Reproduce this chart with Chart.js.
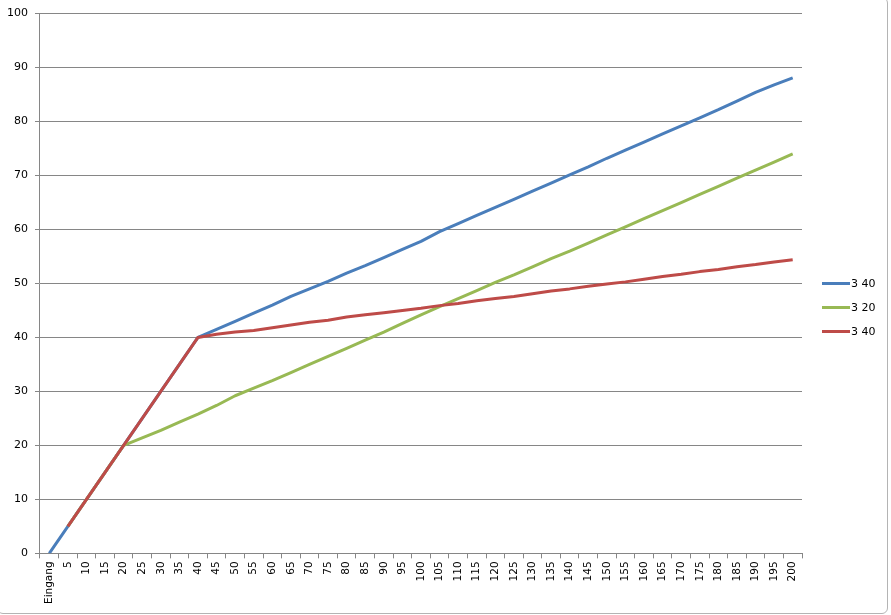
<!DOCTYPE html>
<html>
<head>
<meta charset="utf-8">
<script src="https://cdn.jsdelivr.net/npm/chart.js@4"></script>
<style>
  html, body { margin: 0; padding: 0; background: #fff; }
  #wrap { position: relative; width: 891px; height: 615px; }
  #frame {
    position: absolute; left: -3px; top: -3px; width: 889px; height: 615px;
    border: 1px solid #b4b4b4; border-radius: 6px; pointer-events: none;
  }
</style>
</head>
<body>
<div id="wrap">
  <canvas id="chart" width="891" height="615"></canvas>
  <div id="frame"></div>
</div>
<script>
let labels = ["Eingang", "5", "10", "15", "20", "25", "30", "35", "40", "45", "50",
  "55", "60", "65", "70", "75", "80", "85", "90", "95", "100",
  "105", "110", "115", "120", "125", "130", "135", "140", "145", "150",
  "155", "160", "165", "170", "175", "180", "185", "190", "195", "200"];

let blue40 = [0, 5, 10, 15, 20, 25, 30, 35, 40, 41.5, 43,
  44.5, 46, 47.6, 49, 50.4, 51.9, 53.3, 54.8, 56.3, 57.8,
  59.6, 61.1, 62.6, 64.1, 65.6, 67.1, 68.6, 70.1, 71.6, 73.2,
  74.7, 76.2, 77.7, 79.2, 80.7, 82.2, 83.8, 85.4, 86.8, 88.1];

let green20 = [null, 5, 10, 15, 20, 21.4, 22.8, 24.3, 25.8, 27.4, 29.2,
  30.6, 32.0, 33.5, 35, 36.5, 38.0, 39.5, 41.0, 42.6, 44.2,
  45.7, 47.2, 48.7, 50.2, 51.6, 53.1, 54.6, 56.0, 57.5, 59.0,
  60.5, 62.0, 63.5, 65.0, 66.5, 68.0, 69.5, 71.0, 72.5, 74.0];

let red40 = [null, 5, 10, 15, 20, 25, 30, 35, 40, 40.6, 41.0,
  41.3, 41.8, 42.3, 42.8, 43.2, 43.8, 44.2, 44.6, 45.0, 45.4,
  45.9, 46.3, 46.8, 47.2, 47.6, 48.1, 48.6, 49.0, 49.5, 49.9,
  50.3, 50.8, 51.3, 51.7, 52.2, 52.6, 53.1, 53.5, 54.0, 54.4];

let seriesNames = ["3 40", "3 20", "3 40"];

let gridColor = "#868686";

function line(name, data, color, order) {
  return {
    label: name,
    data: data,
    borderColor: color,
    backgroundColor: color,
    borderWidth: 3,
    pointRadius: 0,
    tension: 0,
    borderJoinStyle: "round",
    spanGaps: false,
    order: order
  };
}

// legend like excel: short line + name, right of the plot
let sideLegend = {
  id: "sideLegend",
  afterDraw: function (chart) {
    let c = chart.ctx;
    let sets = chart.data.datasets;
    let x = chart.chartArea.right + 20;
    let y = chart.height / 2 - 24;
    c.save();
    c.font = "11px 'DejaVu Sans'";
    c.textBaseline = "middle";
    c.fillStyle = "#000";
    for (let i = 0; i < sets.length; i++) {
      let yy = y + i * 24;
      c.strokeStyle = sets[i].borderColor;
      c.lineWidth = 3;
      c.beginPath();
      c.moveTo(x, yy);
      c.lineTo(x + 28, yy);
      c.stroke();
      c.fillText(sets[i].label, x + 29, yy + 1);
    }
    c.restore();
  }
};

let ctx = document.getElementById("chart").getContext("2d");

new Chart(ctx, {
  type: "line",
  data: {
    labels: labels,
    datasets: [
      line(seriesNames[0], blue40, "#4a7ebb", 3),
      line(seriesNames[1], green20, "#98b954", 2),
      line(seriesNames[2], red40, "#be4b48", 1)
    ]
  },
  options: {
    responsive: false,
    animation: false,
    layout: { padding: { left: 0, top: 13, right: 89, bottom: 8 } },
    plugins: {
      tooltip: { enabled: false },
      legend: { display: false }
    },
    scales: {
      x: {
        offset: true,
        grid: {
          offset: true,
          drawOnChartArea: false,
          drawTicks: true,
          tickLength: 5,
          color: gridColor
        },
        border: { color: gridColor },
        ticks: {
          autoSkip: false,
          minRotation: 90,
          maxRotation: 90,
          padding: 3,
          color: "#000",
          font: { family: "DejaVu Sans", size: 10.5 }
        }
      },
      y: {
        min: 0,
        max: 100,
        ticks: {
          stepSize: 10,
          padding: 7,
          color: "#000",
          font: { family: "DejaVu Sans", size: 11 }
        },
        grid: { color: gridColor, tickLength: 5 },
        border: { color: gridColor }
      }
    }
  },
  plugins: [sideLegend]
});
</script>
</body>
</html>
